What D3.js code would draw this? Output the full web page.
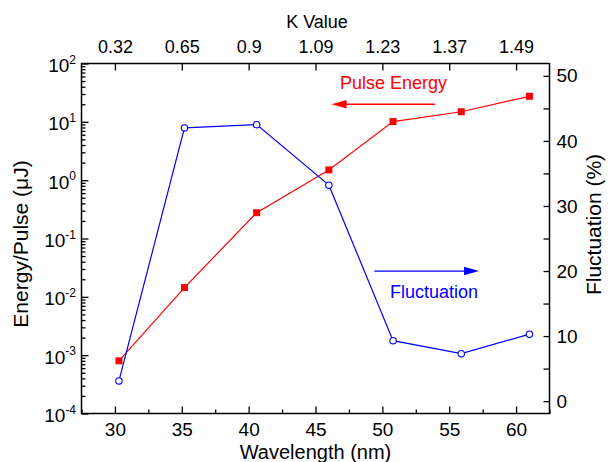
<!DOCTYPE html>
<html>
<head>
<meta charset="utf-8">
<script src="https://cdn.jsdelivr.net/npm/d3@7"></script>
<style>
  html, body { margin: 0; padding: 0; background: #fff; }
  svg { display: block; font-family: "Liberation Sans", Arial, Helvetica, sans-serif; }
</style>
</head>
<body>
<svg id="chart" width="610" height="462"></svg>
<script>
// ---------- data ----------
const wavelength   = [30.3, 35.2, 40.6, 46.0, 50.8, 55.9, 61.0];
const pulseEnergy  = [8.0e-4, 0.0144, 0.277, 1.50, 10.1, 14.9, 27.4];   // µJ (left, log)
const fluctuation  = [3.1, 42.0, 42.5, 33.2, 9.3, 7.3, 10.3];            // % (right)

const bottomTicks  = [30, 35, 40, 45, 50, 55, 60];
const bottomMinor  = [27.5, 32.5, 37.5, 42.5, 47.5, 52.5, 57.5, 62.5];
const kTickPos     = [30, 35, 40, 45, 50, 55, 60];
const kTickLabels  = ["0.32", "0.65", "0.9", "1.09", "1.23", "1.37", "1.49"];
const leftExponents = [-4, -3, -2, -1, 0, 1, 2];
const rightTicks   = [0, 10, 20, 30, 40, 50];
const rightMinor   = [5, 15, 25, 35, 45];

// annotation anchors in data units
const energyArrow  = { from: 53.94, to: 46.2, y: 20 };      // left axis units
const energyText   = { x: 46.83, y: 35.9, label: "Pulse Energy" };
const flucArrow    = { from: 49.4, to: 57.23, y: 20 };      // right axis units
const flucText     = { x: 50.57, y: 15.85, label: "Fluctuation" };

// ---------- layout ----------
const L = 81.5, R = 549.5, T = 63.5, B = 413.5;
const svg = d3.select("#chart");

const x  = d3.scaleLinear().domain([27.5, 62.5]).range([L, R]);
const yL = d3.scaleLog().domain([1e-4, 1e2]).range([B, T]);
const yR = d3.scaleLinear().domain([-1.9, 51.9]).range([B, T]);

const RED = "#ff0000", BLUE = "#0000ff";

function styleAxis(g, fs) {
  g.select(".domain").remove();
  g.selectAll(".tick line").attr("stroke", "#000").attr("stroke-width", 1.3);
  g.selectAll(".tick text").attr("fill", "#000").attr("font-size", fs)
   .attr("font-family", "Liberation Sans, Arial, sans-serif");
}

// bottom axis
svg.append("g").attr("transform", `translate(0,${B})`)
  .call(d3.axisBottom(x).tickValues(bottomTicks).tickFormat(d3.format("d")).tickSize(-7).tickPadding(9))
  .call(g => styleAxis(g, 19));
svg.append("g").attr("transform", `translate(0,${B})`)
  .call(d3.axisBottom(x).tickValues(bottomMinor).tickFormat("").tickSize(-4))
  .call(g => styleAxis(g, 19));

// top axis (K value)
svg.append("g").attr("transform", `translate(0,${T})`)
  .call(d3.axisTop(x).tickValues(kTickPos).tickFormat((d, i) => kTickLabels[i]).tickSize(-7).tickPadding(10.5))
  .call(g => styleAxis(g, 18));

// left log axis
const leftMajor = leftExponents.map(e => Math.pow(10, e));
const leftMinor = [];
leftExponents.slice(0, -1).forEach(e => { for (let m = 2; m <= 9; m++) leftMinor.push(m * Math.pow(10, e)); });

const gl = svg.append("g").attr("transform", `translate(${L},0)`)
  .call(d3.axisLeft(yL).tickValues(leftMajor).tickFormat("").tickSize(-7))
  .call(g => styleAxis(g, 19));
gl.selectAll(".tick text").remove();
gl.selectAll(".tick").append("text")
  .attr("x", -5.5).attr("y", 8).attr("text-anchor", "end")
  .attr("font-size", 19).attr("fill", "#000")
  .each(function(d) {
    const t = d3.select(this);
    t.append("tspan").text("10");
    t.append("tspan").attr("font-size", 12).attr("dy", -8.5).text(Math.round(Math.log10(d)));
  });
svg.append("g").attr("transform", `translate(${L},0)`)
  .call(d3.axisLeft(yL).tickValues(leftMinor).tickFormat("").tickSize(-4))
  .call(g => styleAxis(g, 19));

// right axis
svg.append("g").attr("transform", `translate(${R},0)`)
  .call(d3.axisRight(yR).tickValues(rightTicks).tickSize(-6).tickPadding(7))
  .call(g => styleAxis(g, 19));
svg.append("g").attr("transform", `translate(${R},0)`)
  .call(d3.axisRight(yR).tickValues(rightMinor).tickFormat("").tickSize(-6))
  .call(g => styleAxis(g, 19));

// frame
svg.append("rect").attr("x", L).attr("y", T).attr("width", R - L).attr("height", B - T)
  .attr("fill", "none").attr("stroke", "#000").attr("stroke-width", 1.5);

// axis titles
svg.append("text").attr("x", (L + R) / 2).attr("y", 458.5).attr("text-anchor", "middle")
  .attr("font-size", 20).text("Wavelength (nm)");
svg.append("text").attr("x", (L + R) / 2 + 1.5).attr("y", 28).attr("text-anchor", "middle")
  .attr("font-size", 18).text("K Value");
svg.append("text").attr("transform", "translate(27.5,244) rotate(-90)").attr("text-anchor", "middle")
  .attr("font-size", 21).text("Energy/Pulse (\u03bcJ)");
svg.append("text").attr("transform", "translate(600.5,224.5) rotate(-90)").attr("text-anchor", "middle")
  .attr("font-size", 21).text("Fluctuation (%)");

// ---------- series ----------
const energyData = wavelength.map((w, i) => ({ w, v: pulseEnergy[i] }));
const flucData   = wavelength.map((w, i) => ({ w, v: fluctuation[i] }));

svg.append("path").datum(energyData)
  .attr("fill", "none").attr("stroke", RED).attr("stroke-width", 1.2)
  .attr("d", d3.line().x(d => x(d.w)).y(d => yL(d.v)));
svg.append("g").selectAll("rect").data(energyData).join("rect")
  .attr("x", d => x(d.w) - 3.5).attr("y", d => yL(d.v) - 3.5)
  .attr("width", 7).attr("height", 7).attr("fill", RED);

svg.append("path").datum(flucData)
  .attr("fill", "none").attr("stroke", BLUE).attr("stroke-width", 1.2)
  .attr("d", d3.line().x(d => x(d.w)).y(d => yR(d.v)));
svg.append("g").selectAll("circle").data(flucData).join("circle")
  .attr("cx", d => x(d.w)).attr("cy", d => yR(d.v)).attr("r", 3.2)
  .attr("fill", "#fff").attr("stroke", BLUE).attr("stroke-width", 1.1);

// ---------- annotations ----------
function arrow(x1, x2, y, color) {
  const dir = Math.sign(x2 - x1);
  const headLen = 15, halfW = 4.2;
  svg.append("line").attr("x1", x1).attr("x2", x2 - dir * headLen * 0.8).attr("y1", y).attr("y2", y)
    .attr("stroke", color).attr("stroke-width", 1.3);
  svg.append("path")
    .attr("d", `M${x2},${y} L${x2 - dir * headLen},${y - halfW} L${x2 - dir * headLen},${y + halfW} Z`)
    .attr("fill", color);
}
arrow(x(energyArrow.from), x(energyArrow.to), yL(energyArrow.y), RED);
svg.append("text").attr("x", x(energyText.x)).attr("y", yL(energyText.y))
  .attr("font-size", 18).attr("fill", RED).text(energyText.label);

arrow(x(flucArrow.from), x(flucArrow.to), yR(flucArrow.y), BLUE);
svg.append("text").attr("x", x(flucText.x)).attr("y", yR(flucText.y))
  .attr("font-size", 18).attr("fill", BLUE).text(flucText.label);
</script>
</body>
</html>
